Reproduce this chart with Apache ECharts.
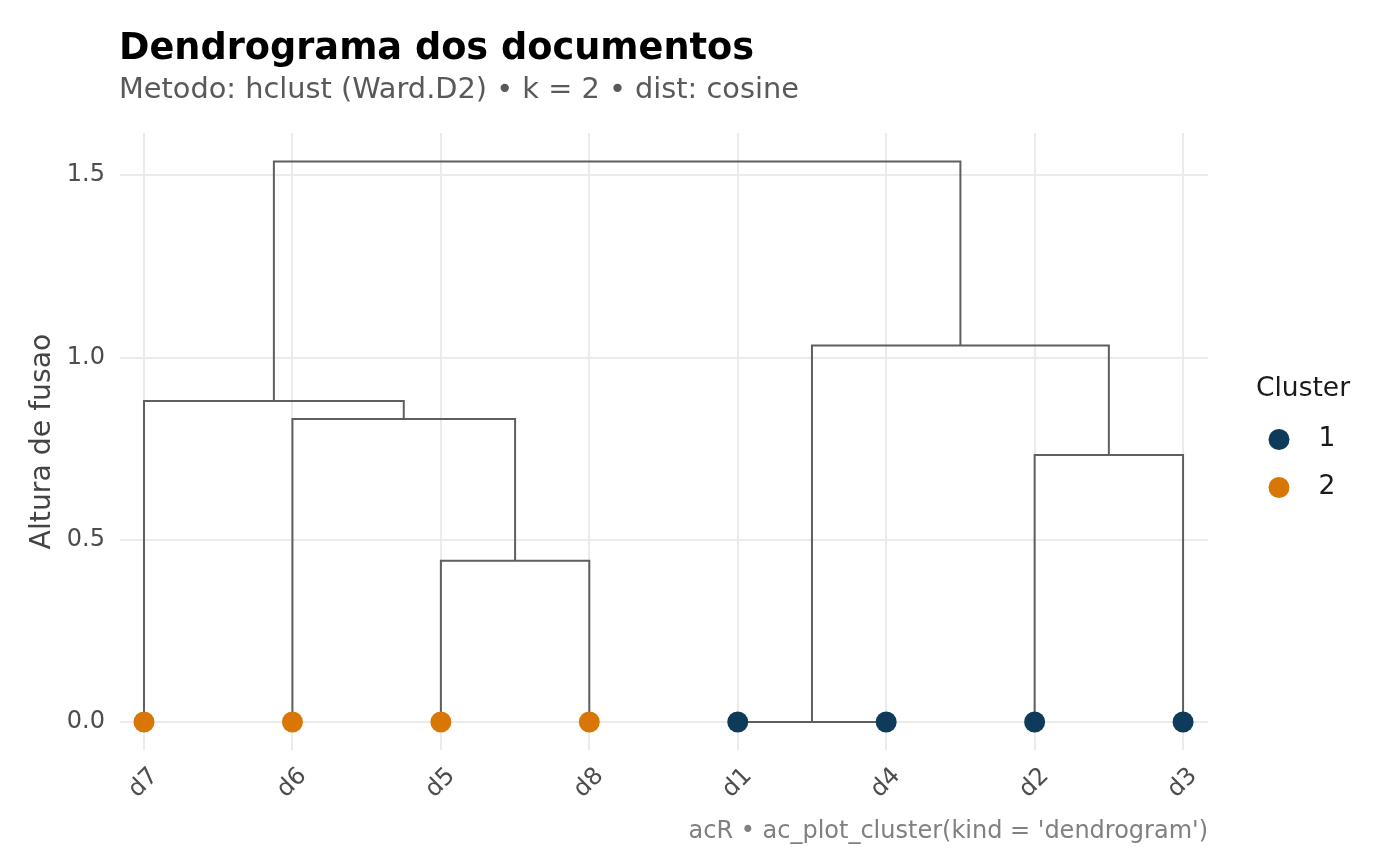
<!DOCTYPE html>
<html>
<head>
<meta charset="utf-8">
<script src="https://cdn.jsdelivr.net/npm/echarts@6/dist/echarts.min.js"></script>
<style>
    html, body {margin: 0; padding: 0; background: #fff;}
    #container {width: 1400px; height: 866px;}
</style>
</head>
<body>
<div id="container"></div>
<script>
// leaf order and cluster of each document
var leaves = ['d7', 'd6', 'd5', 'd8', 'd1', 'd4', 'd2', 'd3'];
var clusters = [2, 2, 2, 2, 1, 1, 1, 1];

// merges, hclust style: m1 is the first merge, m2 the second...
var mergeLeft = ['d1', 'd5', 'd2', 'd6', 'd7', 'm1', 'm5'];
var mergeRight = ['d4', 'd8', 'd3', 'm2', 'm4', 'm3', 'm6'];
var mergeHeight = [0, 0.442, 0.732, 0.831, 0.880, 1.032, 1.537];

var yTicks = [0, 0.5, 1.0, 1.5];
var clusterNames = ['1', '2'];
var clusterColors = ['#0e3b5a', '#d97706'];

var FONT = 'DejaVu Sans';

// position of every node (leaf or merge)
var nodes = {};
leaves.forEach(function (name, i) {
    nodes[name] = {x: i, h: 0};
});
var segments = [];
mergeHeight.forEach(function (h, i) {
    var l = nodes[mergeLeft[i]];
    var r = nodes[mergeRight[i]];
    segments.push({coords: [[l.x, l.h], [l.x, h], [r.x, h], [r.x, r.h]]});
    nodes['m' + (i + 1)] = {x: (l.x + r.x) / 2, h: h};
});

var pointSeries = clusterNames.map(function (c, k) {
    var data = [];
    leaves.forEach(function (name, i) {
        if (String(clusters[i]) === c) data.push([i, 0]);
    });
    return {
        name: c,
        type: 'scatter',
        xAxisIndex: 0,
        yAxisIndex: 0,
        symbolSize: 21,
        itemStyle: {color: clusterColors[k], opacity: 1},
        z: 5,
        silent: true,
        data: data
    };
});

var ec = echarts.init(document.getElementById('container'));

var option = {
    animation: false,
    backgroundColor: '#ffffff',
    textStyle: {fontFamily: FONT},
    title: [
        {
            text: 'Dendrograma dos documentos',
            left: 114, top: 26,
            textStyle: {fontFamily: FONT, fontSize: 36.7, fontWeight: 'bold', color: '#000'}
        },
        {
            text: 'Metodo: hclust (Ward.D2) \u2022 k = 2 \u2022 dist: cosine',
            left: 114, top: 71,
            textStyle: {fontFamily: FONT, fontSize: 28.8, fontWeight: 'normal', color: '#595959'}
        }
    ],
    legend: {
        orient: 'vertical',
        left: 1268.5, top: 426,
        padding: 0,
        itemWidth: 21, itemHeight: 21,
        itemGap: 21,
        icon: 'circle',
        selectedMode: false,
        data: clusterNames,
        textStyle: {fontFamily: FONT, fontSize: 26.5, color: '#1a1a1a', padding: [0, 0, 0, 24]}
    },
    graphic: [
        {
            type: 'text', left: 1256, top: 376,
            style: {text: 'Cluster', fontFamily: FONT, fontSize: 26.5, fill: '#1a1a1a'}
        },
        {
            type: 'text', right: 192, top: 820,
            style: {text: "acR \u2022 ac_plot_cluster(kind = 'dendrogram')", fontFamily: FONT, fontSize: 24, fill: '#808080'}
        }
    ],
    grid: [
        // data panel
        {left: 120, right: 192, top: 133, bottom: 116},
        // horizontal guides
        {left: 120, right: 192, top: 175, bottom: 144},
        // vertical guides and leaf labels
        {left: 143.7, right: 217.3, top: 133, bottom: 116}
    ],
    xAxis: [
        {gridIndex: 0, type: 'value', min: -0.1617, max: 7.168, show: false},
        {gridIndex: 1, type: 'value', min: 0, max: 1, show: false},
        {
            gridIndex: 2, type: 'category', data: leaves, boundaryGap: false,
            axisLine: {show: false}, axisTick: {show: false},
            splitLine: {show: true, lineStyle: {color: '#ebebeb', width: 2}},
            axisLabel: {
                interval: 0, rotate: 45, margin: 33,
                align: 'center', verticalAlign: 'middle',
                fontFamily: FONT, fontSize: 24, color: '#4d4d4d'
            }
        }
    ],
    yAxis: [
        {
            gridIndex: 0, type: 'value', min: -0.0768, max: 1.615,
            axisLine: {show: false}, axisTick: {show: false},
            axisLabel: {show: false}, splitLine: {show: false},
            name: 'Altura de fusao', nameLocation: 'middle', nameGap: 63,
            nameTextStyle: {fontFamily: FONT, fontSize: 28.3, color: '#444'}
        },
        {
            gridIndex: 1, type: 'value', min: yTicks[0], max: yTicks[yTicks.length - 1], interval: 0.5,
            axisLine: {show: false}, axisTick: {show: false},
            splitLine: {show: true, lineStyle: {color: '#ebebeb', width: 2}},
            axisLabel: {
                margin: 15, fontFamily: FONT, fontSize: 24, color: '#4d4d4d',
                formatter: function (v) { return v.toFixed(1); }
            }
        },
        {gridIndex: 2, type: 'value', min: 0, max: 1, show: false}
    ],
    series: [
        {
            type: 'lines',
            coordinateSystem: 'cartesian2d',
            xAxisIndex: 0,
            yAxisIndex: 0,
            polyline: true,
            silent: true,
            z: 3,
            lineStyle: {color: '#5f5f5f', width: 2, opacity: 1},
            data: segments
        }
    ].concat(pointSeries)
};

ec.setOption(option);
</script>
</body>
</html>
